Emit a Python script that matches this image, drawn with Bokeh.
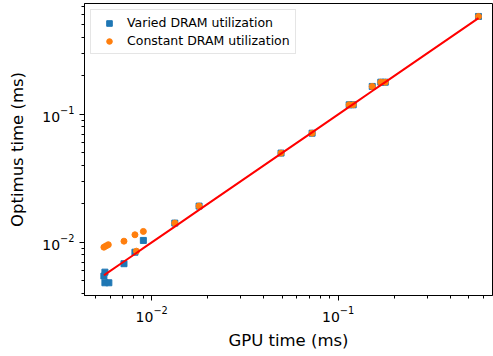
from bokeh.plotting import figure
from bokeh.models import Range1d, Legend, LegendItem
from bokeh.embed import file_html
from bokeh.resources import INLINE

# Varied DRAM utilization (blue squares)
gpu_varied = [0.00561, 0.00554, 0.00561, 0.00589, 0.00710, 0.00813, 0.00902, 0.0133, 0.01795,
              0.0494, 0.0725, 0.1146, 0.1205, 0.1524, 0.1694, 0.1790, 0.566]
opt_varied = [0.00586, 0.00546, 0.00484, 0.00484, 0.00682, 0.00839, 0.01037, 0.01416, 0.01923,
              0.0499, 0.0714, 0.119, 0.119, 0.1655, 0.1787, 0.1787, 0.583]

# Constant DRAM utilization (orange circles)
gpu_const = [0.00554, 0.00569, 0.00585, 0.00710, 0.00813, 0.00828, 0.00902, 0.0133, 0.01795,
             0.0494, 0.0725, 0.1146, 0.1205, 0.1524, 0.1694, 0.1790, 0.566]
opt_const = [0.00918, 0.00940, 0.00960, 0.01023, 0.01148, 0.00855, 0.01219, 0.01416, 0.01923,
             0.0499, 0.0714, 0.119, 0.119, 0.1655, 0.1787, 0.1787, 0.583]

# Reference y = x line over GPU time
line_x = sorted(gpu_varied)
line_y = list(line_x)

FONT = "DejaVu Sans"

p = figure(width=493, height=356, x_axis_type="log", y_axis_type="log",
           x_range=Range1d(0.00436, 0.673), y_range=Range1d(0.00385, 0.736),
           output_backend="svg", toolbar_location=None)
p.min_border_left = 84
p.min_border_right = 1
p.min_border_top = 3
p.min_border_bottom = 61
p.xgrid.visible = False
p.ygrid.visible = False
p.outline_line_color = "black"
p.outline_line_width = 1
p.background_fill_color = "white"
p.border_fill_color = "white"

r1 = p.scatter(gpu_varied, opt_varied, marker="square", size=6,
               fill_color="#1f77b4", line_color="#1f77b4")
r2 = p.scatter(gpu_const, opt_const, marker="circle", size=6,
               fill_color="#ff7f0e", line_color="#ff7f0e")
p.line(line_x, line_y, line_color="red", line_width=2)

for ax in (p.xaxis[0], p.yaxis[0]):
    ax.axis_line_color = "black"
    ax.major_tick_line_color = "black"
    ax.minor_tick_line_color = "black"
    ax.major_tick_out = 5
    ax.major_tick_in = 0
    ax.minor_tick_out = 3
    ax.minor_tick_in = 0
    ax.major_label_text_font = FONT
    ax.major_label_text_font_size = "14px"
    ax.major_label_text_color = "black"
    ax.axis_label_text_font = FONT
    ax.axis_label_text_font_size = "16.5px"
    ax.axis_label_text_font_style = "normal"
    ax.axis_label_text_color = "black"

p.xaxis.axis_label = "GPU time (ms)"
p.yaxis.axis_label = "Optimus time (ms)"
p.xaxis.major_label_standoff = 5
p.xaxis.axis_label_standoff = 6
p.yaxis.major_label_standoff = 5
p.yaxis.axis_label_standoff = 12

legend = Legend(items=[LegendItem(label="Varied DRAM utilization", renderers=[r1]),
                       LegendItem(label="Constant DRAM utilization", renderers=[r2])],
                location="top_left")
legend.margin = 6
legend.padding = 5
legend.spacing = 3
legend.glyph_width = 26
legend.glyph_height = 14
legend.label_height = 14
legend.label_standoff = 5
legend.label_text_font = FONT
legend.label_text_font_size = "12.5px"
legend.label_text_color = "black"
legend.border_line_color = "#cccccc"
legend.border_line_width = 1
legend.background_fill_alpha = 0.8
p.add_layout(legend)

open("out.html", "w").write(file_html(p, INLINE))
